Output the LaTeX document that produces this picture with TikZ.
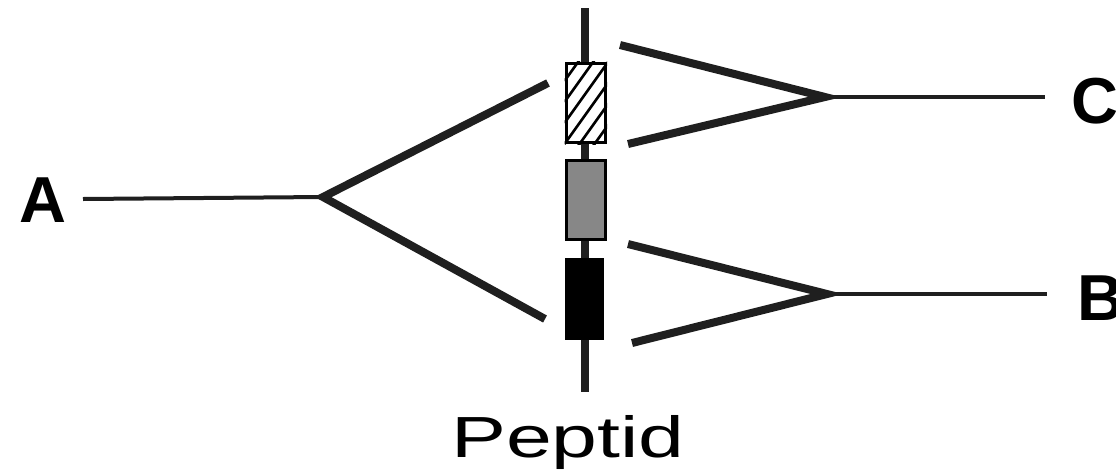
\documentclass[tikz,border=0pt]{standalone}
\usepackage{fontspec}
\setmainfont{Liberation Sans}
\usetikzlibrary{calc}
\begin{document}
\begin{tikzpicture}[x=1pt,y=-1pt,
  thick line/.style={line width=8pt,color=black!88},
  thin line/.style={line width=4pt,color=black!88},
  segbox/.style={draw=black,line width=3.5pt,minimum width=39pt,minimum height=79pt,inner sep=0pt,anchor=north west},
  letter/.style={font=\fontsize{65}{67}\selectfont\bfseries,inner sep=0pt,anchor=base west}]
\useasboundingbox (0,0) rectangle (1116,472);
% backbone
\coordinate (top) at (585,8);
\coordinate (bot) at (585,392);
\draw[line width=8pt,color=black!88] (top) -- (bot);
% segments
\node[segbox,fill=white] (hbox) at (564.5,61.5) {};
\begin{scope}
  \clip (hbox.north west) rectangle (hbox.south east);
  \foreach \k in {-2,...,6}
    \draw[line width=2.6pt] ($(hbox.south west)+(0,-\k*21)$) -- ++(50,-70);
\end{scope}
\node[segbox,fill=black!47] (gbox) at (564.5,158.5) {};
\node[segbox,fill=black,minimum width=36pt] (bbox) at (564.5,257.5) {};
% A fork
\node[letter] (A) at (19,222) {A};
\coordinate (va) at (323,197);
\coordinate (a1) at (548,83);
\coordinate (a2) at (545,319);
\draw[thin line] (83,199) coordinate (a0) -- (va);
\draw[thick line] (a1) -- (va) -- (a2);
% C fork
\node[letter] (C) at (1071,123) {C};
\coordinate (vc) at (825,97);
\draw[thick line] (620,45) coordinate (c1) -- (vc) -- (628,144) coordinate (c2);
\draw[thin line] (vc) -- (1045,97) coordinate (c0);
% B fork
\node[letter] (B) at (1077,320) {B};
\coordinate (vb) at (827,294);
\draw[thick line] (628,244) coordinate (b1) -- (vb) -- (632,343) coordinate (b2);
\draw[thin line] (vb) -- (1047,294) coordinate (b0);
% label
\node[inner sep=0pt,anchor=base] (pep) at (568,457) {\scalebox{1.42}[1]{\fontsize{58}{60}\selectfont Peptid}};
\end{tikzpicture}
\end{document}
